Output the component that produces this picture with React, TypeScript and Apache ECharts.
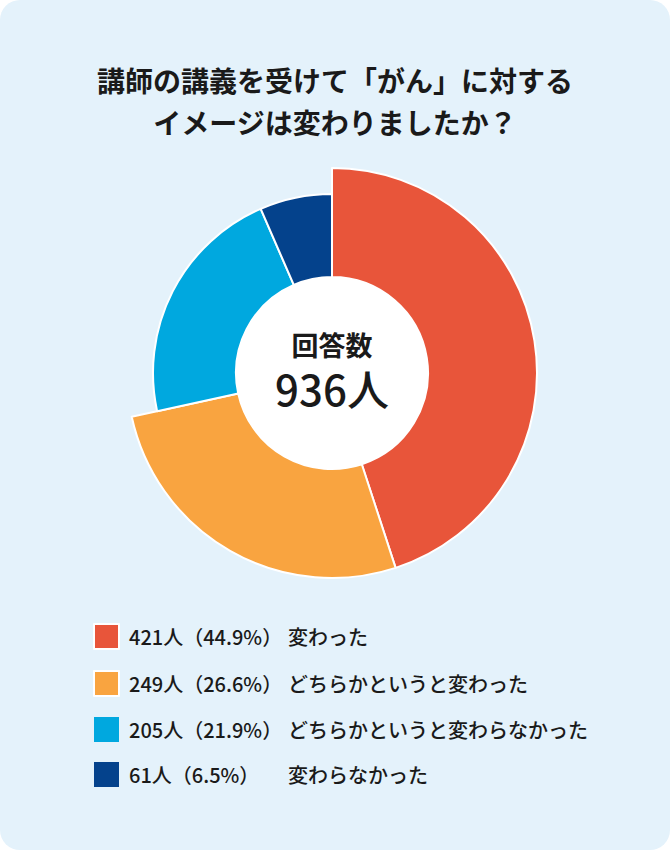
import React, { useEffect, useRef } from "react";
import * as echarts from "echarts";

// Survey answers (respondents: 936)
const categories = ["変わった", "どちらかというと変わった", "どちらかというと変わらなかった", "変わらなかった"];
const counts = [421, 249, 205, 61];
const percents = ["44.9", "26.6", "21.9", "6.5"];
const colors = ["#e8553a", "#f9a440", "#00a8df", "#04428c"];
// slices drawn on the long (outer) ring vs the short ring
const longRing = [true, true, false, false];
const centerTitle = "回答数";
const totalLabel = "936人";

const FONT = '"Noto Sans CJK JP", "Noto Sans", sans-serif';
const CENTER: [number, number] = [332, 373];

export default function App() {
  const chartRef = useRef<HTMLDivElement>(null);

  useEffect(() => {
    document.body.style.margin = "0";
    if (!chartRef.current) return;
    const chart = echarts.init(chartRef.current, undefined, { renderer: "svg" });

    const ringData = (long: boolean) =>
      categories.map((name, i) => ({
        name,
        value: counts[i],
        itemStyle:
          longRing[i] === long
            ? { color: colors[i], borderColor: "#ffffff", borderWidth: 2 }
            : { color: "transparent", borderWidth: 0 },
      }));

    const common = {
      type: "pie" as const,
      center: CENTER,
      startAngle: 90,
      clockwise: true,
      label: { show: false },
      labelLine: { show: false },
      emphasis: { disabled: true },
      silent: true,
    };

    chart.setOption({
      animation: false,
      backgroundColor: "transparent",
      title: {
        text: "講師の講義を受けて「がん」に対する\nイメージは変わりましたか？",
        left: "center",
        top: 54,
        textStyle: {
          fontFamily: FONT,
          fontSize: 28,
          fontWeight: "bold",
          color: "#1a1a1a",
          lineHeight: 42,
          align: "center",
        },
      },
      legend: {
        orient: "vertical",
        left: 88,
        top: 618,
        itemWidth: 25,
        itemHeight: 25,
        itemGap: 20,
        icon: "rect",
        selectedMode: false,
        data: categories.map((name, i) => ({ name, itemStyle: { color: colors[i] } })),
        formatter: (name: string) => {
          const i = categories.indexOf(name);
          return `{a|${counts[i]}人（${percents[i]}%）}{b|${name}}`;
        },
        textStyle: {
          fontFamily: FONT,
          fontSize: 20,
          color: "#1a1a1a",
          rich: {
            a: { fontFamily: FONT, fontSize: 20, fontWeight: 500, color: "#1a1a1a", width: 159, padding: [0, 0, 0, 5] },
            b: { fontFamily: FONT, fontSize: 20, fontWeight: 500, color: "#1a1a1a" },
          },
        },
      },
      graphic: [
        {
          type: "text",
          x: CENTER[0],
          y: 344,
          z: 100,
          silent: true,
          style: {
            text: centerTitle,
            fontFamily: FONT,
            fontSize: 27,
            fontWeight: "bold",
            fill: "#1a1a1a",
            textAlign: "center",
            textVerticalAlign: "middle",
          },
        },
        {
          type: "text",
          x: CENTER[0],
          y: 387,
          z: 100,
          silent: true,
          style: {
            text: totalLabel,
            fontFamily: FONT,
            fontSize: 42,
            fontWeight: 500,
            fill: "#1a1a1a",
            textAlign: "center",
            textVerticalAlign: "middle",
          },
        },
      ],
      series: [
        {
          ...common,
          name: "center",
          radius: [0, 96],
          data: [{ name: "center", value: 1, itemStyle: { color: "#ffffff" } }],
        },
        { ...common, name: "long", radius: [96, 205], data: ringData(true) },
        { ...common, name: "short", radius: [96, 179], data: ringData(false) },
      ],
    });

    return () => chart.dispose();
  }, []);

  return (
    <div
      style={{
        width: 670,
        height: 850,
        borderRadius: 20,
        background: "#e4f2fb",
        overflow: "hidden",
      }}
    >
      <div ref={chartRef} style={{ width: 670, height: 850 }} />
    </div>
  );
}
